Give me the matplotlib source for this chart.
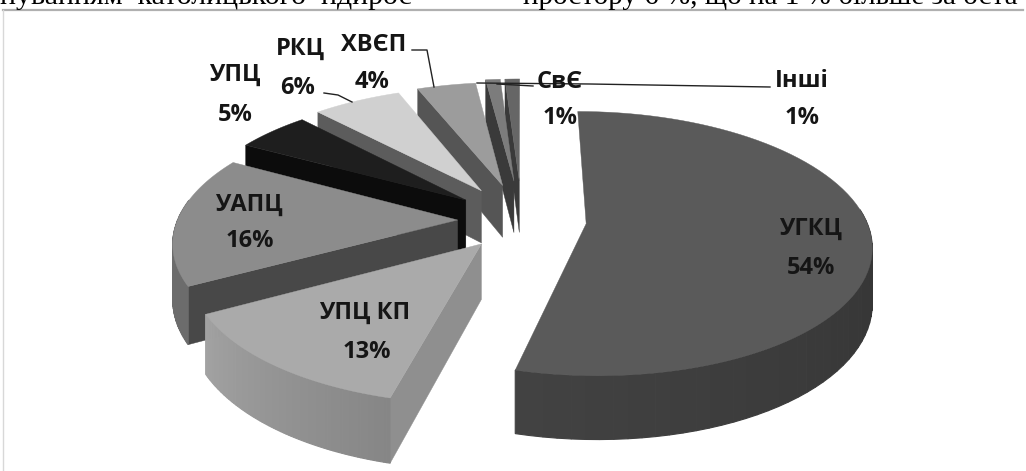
import numpy as np
import matplotlib
matplotlib.use("Agg")
import matplotlib.pyplot as plt

categories = ["УГКЦ", "УПЦ КП", "УАПЦ", "УПЦ", "РКЦ", "ХВЄП", "СвЄ", "Інші"]
values = [54, 13, 16, 5, 6, 4, 1, 1]
explode = [0.23, 0.23, 0.23, 0.26, 0.28, 0.29, 0.32, 0.32]
top_colors = ["#5a5a5a", "#aaaaaa", "#8c8c8c", "#1e1e1e", "#d0d0d0", "#9c9c9c", "#7c7c7c", "#666666"]
wall_colors = ["#3a3a3a", "#8f8f8f", "#484848", "#0c0c0c", "#5c5c5c", "#555555", "#3a3a3a", "#3a3a3a"]
rim_left = ["#424242", "#a2a2a2", "#6c6c6c", "#0c0c0c", "#5c5c5c", "#555555", "#3a3a3a", "#3a3a3a"]
rim_right = ["#282828", "#868686", "#6c6c6c", "#0c0c0c", "#5c5c5c", "#555555", "#3a3a3a", "#3a3a3a"]

label_pos = {
    "УГКЦ": (811, 229, 811, 268),
    "УПЦ КП": (365, 313, 367, 352),
    "УАПЦ": (249, 205, 250, 241),
    "УПЦ": (235, 75, 235, 115),
    "РКЦ": (300, 49, 298, 88),
    "ХВЄП": (374, 45, 372, 82),
    "СвЄ": (560, 82, 560, 118),
    "Інші": (802, 81, 802, 118),
}

# pie geometry, everything in image pixels
cx, cy = 522, 220
rx, ry = 280, 128
persp = 0.15
height = 54


def project(U, V, lift=0.0):
    w = 1 + persp * V
    return cx + rx * U / w, cy - ry * V / w + lift / w


def blend(c1, c2, f):
    a = np.array(matplotlib.colors.to_rgb(c1))
    b = np.array(matplotlib.colors.to_rgb(c2))
    return a + (b - a) * f


fig = plt.figure(figsize=(10.26, 4.71), dpi=100)
ax = fig.add_axes([0, 0, 1, 1])
ax.set_xlim(0, 1026)
ax.set_ylim(471, 0)
ax.axis("off")

# bits of the page text cut off above the chart
ax.text(0, 4, "нуванням  католицького  ндирос", family="Liberation Serif", fontsize=21.5, va="baseline")
ax.text(523, 4, "простору 6 %, що на 1 % більше за оста", family="Liberation Serif", fontsize=21, va="baseline")
ax.plot([3, 1023], [10, 10], color="#b0b0b0", lw=1.6)
ax.plot([3, 3], [10, 471], color="#d8d8d8", lw=1)

total = sum(values)
edges = np.cumsum([0] + values) / total * 2 * np.pi

# back slices first, the biggest one last
for i in range(len(values) - 1, -1, -1):
    t0, t1 = edges[i], edges[i + 1]
    mid = (t0 + t1) / 2
    ou, ov = explode[i] * np.sin(mid), explode[i] * np.cos(mid)
    ts = np.linspace(t0, t1, 80)
    U = ou + np.sin(ts)
    V = ov + np.cos(ts)

    # flat side wall, only when it faces the viewer
    if np.sin(t0) < -1e-6:
        eu, ev = ou + np.sin(t0), ov + np.cos(t0)
        xa, ya = project(ou, ov)
        xb, yb = project(eu, ev)
        xc, yc = project(eu, ev, height)
        xd, yd = project(ou, ov, height)
        ax.fill([xa, xb, xc, xd], [ya, yb, yc, yd], color=wall_colors[i], lw=0.3, zorder=i * -10 + 80)

    # rim, shaded along the arc, back part of the arc is hidden anyway
    for j in range(len(ts) - 1):
        if np.cos(ts[j]) > 0.15:
            continue
        xa, ya = project(U[j:j + 2], V[j:j + 2])
        xb, yb = project(U[j:j + 2], V[j:j + 2], height)
        col = blend(rim_right[i], rim_left[i], j / (len(ts) - 2))
        ax.fill(np.r_[xa, xb[::-1]], np.r_[ya, yb[::-1]], color=col, lw=0.8, zorder=i * -10 + 81)

    # top face
    xt, yt = project(np.r_[ou, U], np.r_[ov, V])
    ax.fill(xt, yt, color=top_colors[i], lw=0.3, zorder=i * -10 + 82)

for name, val in zip(categories, values):
    x1, y1, x2, y2 = label_pos[name]
    ax.text(x1, y1, name, family="Open Sans", weight="bold", fontsize=17, ha="center", va="center", color="#151515", zorder=200)
    ax.text(x2, y2, f"{val}%", family="Open Sans", weight="bold", fontsize=17, ha="center", va="center", color="#151515", zorder=200)

# leader lines
leaders = [
    ([412, 427, 434], [50, 50, 87]),
    ([324, 338, 352], [93, 95, 102]),
    ([497, 533], [84, 86]),
    ([477, 590, 770], [83, 84, 87]),
]
for xs, ys in leaders:
    ax.plot(xs, ys, color="#222222", lw=1, zorder=150)

fig.savefig("out.png", dpi=100)
